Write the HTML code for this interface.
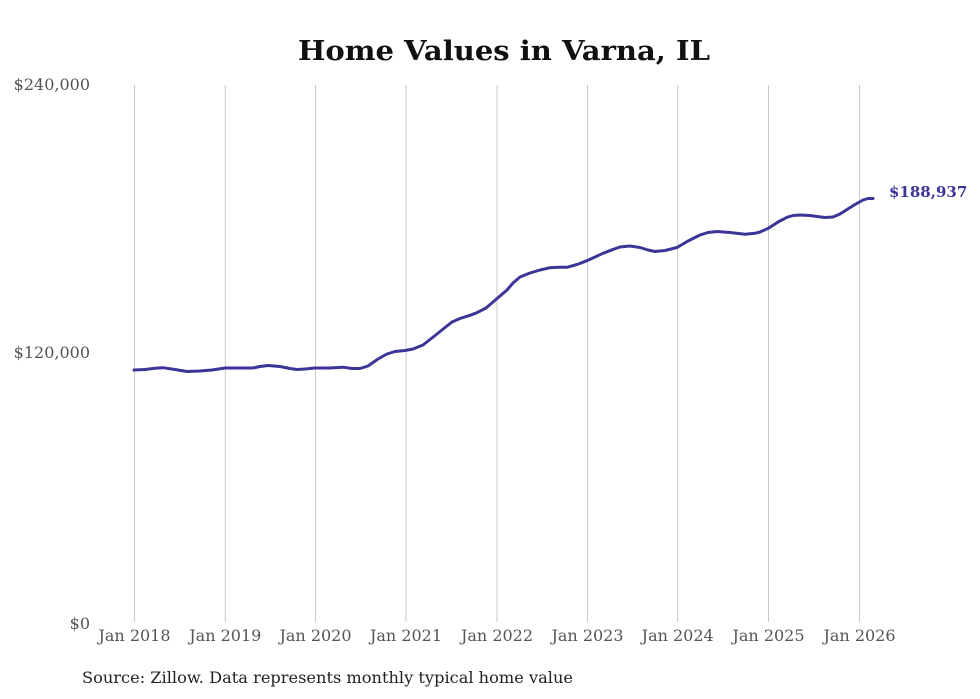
<!DOCTYPE html>
<html><head><meta charset="utf-8"><style>
html,body{margin:0;padding:0;background:#fff;}
svg{display:block;}
text{font-family:"DejaVu Serif","Liberation Serif",serif;}
</style></head><body>
<svg width="980" height="699" viewBox="0 0 980 699" xmlns="http://www.w3.org/2000/svg">
<rect width="980" height="699" fill="#fff"/>
<text x="504" y="60" text-anchor="middle" font-size="27" font-weight="bold" fill="#111" textLength="412" lengthAdjust="spacingAndGlyphs">Home Values in Varna, IL</text>
<g stroke="#c8c8c8" stroke-width="1">
<line x1="134.5" y1="85" x2="134.5" y2="622"/>
<line x1="225.3" y1="85" x2="225.3" y2="622"/>
<line x1="315.5" y1="85" x2="315.5" y2="622"/>
<line x1="406" y1="85" x2="406" y2="622"/>
<line x1="497" y1="85" x2="497" y2="622"/>
<line x1="587.5" y1="85" x2="587.5" y2="622"/>
<line x1="677.7" y1="85" x2="677.7" y2="622"/>
<line x1="768.5" y1="85" x2="768.5" y2="622"/>
<line x1="859.5" y1="85" x2="859.5" y2="622"/>
</g>
<g font-size="16" fill="#555" text-anchor="end">
<text x="90" y="90">$240,000</text>
<text x="90" y="358">$120,000</text>
<text x="90" y="629">$0</text>
</g>
<g font-size="16" fill="#555" text-anchor="middle">
<text x="134.5" y="641">Jan 2018</text>
<text x="225.3" y="641">Jan 2019</text>
<text x="315.5" y="641">Jan 2020</text>
<text x="406" y="641">Jan 2021</text>
<text x="497" y="641">Jan 2022</text>
<text x="587.5" y="641">Jan 2023</text>
<text x="677.7" y="641">Jan 2024</text>
<text x="768.5" y="641">Jan 2025</text>
<text x="859.5" y="641">Jan 2026</text>
</g>
<polyline fill="none" stroke="#3b3597" stroke-width="3" stroke-linejoin="round" stroke-linecap="round" points="134,370 145,369.5 155,368.3 163,367.7 175,369.5 187,371.5 200,371 212,370 225,368 240,368 253,368 260,366.5 268,365.5 280,366.5 290,368.5 297,369.5 305,369 315,368 330,368 343,367.2 352,368.5 360,368.5 368,366 378,359 387,354 395,351.5 405,350.5 413,349 423,345 430,339.5 437,334 445,327.5 452,322 460,318.5 470,315.3 477,312.7 486,308 493,302 500,296 507,290 513,283 520,277 530,273 540,270 550,267.7 558,267.2 567,267.3 577,264.5 587,260.7 595,257 603,253.3 612,249.8 620,247 630,246 640,247.5 648,250 655,251.5 665,250.5 677,247.5 688,241 700,235 708,232.5 717,231.5 730,232.5 745,234.3 755,233.3 760,232 768,228.5 778,222 787,217.3 793,215.5 800,215 810,215.5 817,216.5 825,217.5 833,217 840,214 847,209.5 855,204.5 863,200 868,198.5 873,198.5"/>
<text x="889" y="197" font-size="15" font-weight="bold" fill="#3b3597">$188,937</text>
<text x="82" y="683" font-size="16" fill="#222" textLength="491" lengthAdjust="spacingAndGlyphs">Source: Zillow. Data represents monthly typical home value</text>
</svg>
</body></html>
